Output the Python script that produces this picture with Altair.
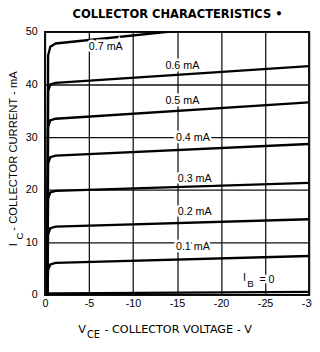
import altair as alt
import pandas as pd

# ---- data ----
base_currents = ["0", "0.1", "0.2", "0.3", "0.4", "0.5", "0.6", "0.7"]   # I_B (mA)
vce_points = [0.25, 0.35, 0.6, 1.2, 30.0]                                 # |V_CE| (V)
ic_0 = [0.0, 0.2, 0.3, 0.3, 0.6]
ic_01 = [0.0, 4.8, 5.8, 6.1, 7.4]
ic_02 = [0.0, 11.5, 12.7, 13.0, 14.4]
ic_03 = [0.0, 18.3, 19.5, 19.8, 21.3]
ic_04 = [0.0, 25.0, 26.2, 26.5, 28.7]
ic_05 = [0.0, 32.0, 33.2, 33.5, 36.6]
ic_06 = [0.0, 38.8, 40.0, 40.3, 43.5]
ic_07 = [0.0, 45.5, 47.2, 47.8, 52.8]
curves = [ic_0, ic_01, ic_02, ic_03, ic_04, ic_05, ic_06, ic_07]

label_texts = ["0.7 mA", "0.6 mA", "0.5 mA", "0.4 mA", "0.3 mA", "0.2 mA", "0.1 mA"]
label_vce = [6.9, 15.6, 15.6, 16.8, 17.0, 17.0, 16.8]
label_ic = [47.2, 43.5, 36.8, 29.8, 22.0, 15.7, 9.1]

x_ticks = [-2.5 * i for i in range(13)]
y_ticks = [5 * i for i in range(11)]

rows = []
for ib, ic in zip(base_currents, curves):
    for v, i in zip(vce_points, ic):
        rows.append({"ib": ib, "vce": -v, "ic": i})
df = pd.DataFrame(rows)

lab = pd.DataFrame({"t": label_texts, "vce": [-v for v in label_vce], "ic": label_ic})
ib0 = pd.DataFrame({"vce": [-24.0], "ic": [2.8]})

FONT = "Liberation Sans"
WIDE = "DejaVu Sans"

xs = alt.Scale(domain=[0, -30], nice=False)
ys = alt.Scale(domain=[0, 50], nice=False)

x_axis = alt.Axis(values=x_ticks, title=None, grid=True, gridColor="#111", gridOpacity=1,
                  gridWidth=1.3, ticks=False, domain=False, labelFont=FONT, labelFontSize=11,
                  labelColor="black", labelPadding=3, labelFlush=False,
                  labelExpr="datum.value % 5 == 0 ? (datum.value == 0 ? '0' : '-' + abs(datum.value)) : ''")
y_axis = alt.Axis(values=y_ticks, title=None, grid=True, gridColor="#111", gridOpacity=1,
                  gridWidth=1.3, ticks=False, domain=False, labelFont=FONT, labelFontSize=11,
                  labelColor="black", labelPadding=8,
                  labelExpr="datum.value % 10 == 0 ? datum.value : ''")

lines = alt.Chart(df).mark_line(color="black", strokeWidth=2.4, clip=True).encode(
    x=alt.X("vce:Q", scale=xs, axis=x_axis),
    y=alt.Y("ic:Q", scale=ys, axis=y_axis),
    detail="ib:N",
)

halo = alt.Chart(lab).mark_text(font=FONT, fontSize=11, stroke="white", strokeWidth=5,
                                 color="white").encode(
    x=alt.X("vce:Q", scale=xs), y=alt.Y("ic:Q", scale=ys), text="t:N")
texts = alt.Chart(lab).mark_text(font=FONT, fontSize=11, color="black").encode(
    x=alt.X("vce:Q", scale=xs), y=alt.Y("ic:Q", scale=ys), text="t:N")


def ib_part(s, size, dx, dy, white):
    kw = dict(stroke="white", strokeWidth=5, color="white") if white else dict(color="black")
    return alt.Chart(ib0).mark_text(font=FONT, fontSize=size, dx=dx, dy=dy, **kw).encode(
        x=alt.X("vce:Q", scale=xs), y=alt.Y("ic:Q", scale=ys), text=alt.value(s))


ib_layers = []
for white in (True, False):
    ib_layers += [ib_part("I", 11, -12, -2, white), ib_part("B", 10, -6, 4, white),
                  ib_part("=  0", 11, 11, 0, white)]


def txt(s, x, y, size=11, weight="normal", angle=0, align="left", font=FONT):
    return alt.Chart(pd.DataFrame({"a": [0]})).mark_text(
        text=s, font=font, fontSize=size, fontWeight=weight, angle=angle, align=align,
        baseline="middle", color="black").encode(x=alt.value(x), y=alt.value(y))


title = txt("COLLECTOR CHARACTERISTICS •", 136, -18, size=11.8, weight="bold", align="center", font=WIDE)
xt_v = txt("V", 34, 306, size=11.5, font=WIDE)
xt_ce = txt("CE", 43, 311, size=10, font=WIDE)
xt_rest = txt("- COLLECTOR VOLTAGE - V", 61, 306, size=11.5, font=WIDE)
yt_i = txt("I", -32, 220, size=11.5, angle=270)
yt_c = txt("C", -26, 213, size=10, angle=270)
yt_rest = txt("- COLLECTOR CURRENT - mA", -32, 204, size=11.5, angle=270)

chart = alt.layer(lines, halo, texts, *ib_layers, title, xt_v, xt_ce, xt_rest,
                  yt_i, yt_c, yt_rest).properties(
    width=271, height=270,
    autosize=alt.AutoSizeParams(type="none"),
    padding={"left": 38, "top": 20, "right": 3, "bottom": 54},
).configure_view(stroke="black", strokeWidth=2)

chart.save("out.html", embed_options={"renderer": "svg", "actions": False})
